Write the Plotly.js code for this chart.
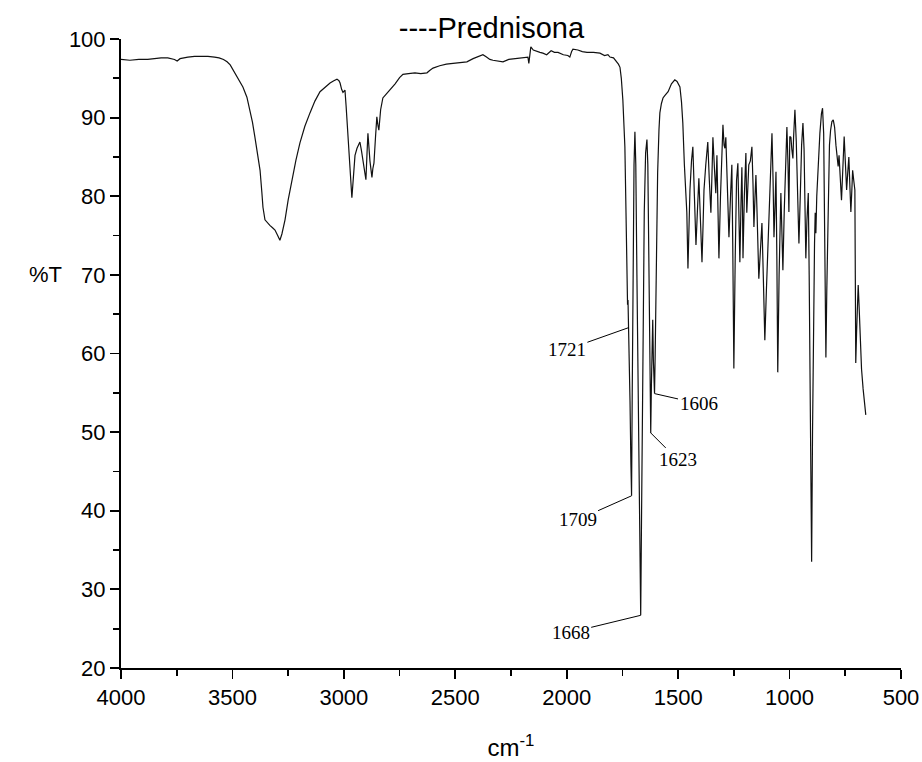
<!DOCTYPE html>
<html>
<head>
<meta charset="utf-8">
<script src="https://cdn.plot.ly/plotly-3.0.1.min.js"></script>
<style>html,body{margin:0;padding:0;background:#fff}#chart{width:922px;height:762px}</style>
</head>
<body>
<div id="chart"></div>
<script>
// Wavenumber (cm-1) and transmittance (%T)
const wavenumber = [
4000,3960,3920,3880,3850,3820,3790,3760,3748,3735,3700,3670,3640,3610,3580,3560,3540,3524,3510,3498,
3475,3453,3435,3421,3410,3399,3387,3376,3368,3363,3354,3343,3332,3320,3309,3297,3287,3278,3264,3250,
3233,3215,3197,3175,3152,3130,3107,3085,3062,3045,3031,3022,3017,3010,3004,2998,2995,2990,2982,2972,
2964,2957,2950,2941,2935,2928,2921,2914,2907,2901,2896,2892,2883,2874,2870,2865,2858,2852,2847,2843,
2835,2825,2810,2793,2770,2750,2735,2710,2681,2655,2627,2615,2600,2570,2540,2510,2480,2448,2420,2395,
2376,2360,2345,2331,2310,2286,2260,2230,2200,2174,2170,2165,2161,2150,2134,2120,2107,2090,2070,2055,
2039,2015,1995,1986,1978,1972,1950,1930,1909,1880,1851,1830,1815,1806,1790,1775,1768,1761,1755,1748,
1743,1739,1734,1730,1727,1725,1723,1721,1716,1712,1709,1706,1702,1698,1694,1690,1685,1678,1672,1668,
1664,1658,1652,1646,1640,1636,1631,1627,1623,1620,1617,1614,1611,1606,1603,1598,1592,1586,1582,1575,
1568,1560,1550,1545,1530,1515,1505,1492,1485,1479,1472,1466,1461,1456,1451,1447,1440,1434,1427,1420,
1413,1407,1400,1393,1388,1384,1376,1367,1360,1353,1348,1344,1337,1331,1326,1322,1317,1310,1304,1299,
1294,1290,1286,1279,1272,1265,1259,1255,1250,1244,1238,1232,1227,1223,1218,1214,1211,1209,1203,1196,
1192,1187,1183,1176,1169,1164,1160,1155,1151,1146,1142,1138,1132,1124,1118,1111,1104,1097,1090,1085,
1079,1074,1070,1065,1061,1057,1053,1047,1039,1034,1030,1024,1018,1012,1007,1003,999,994,990,985,
982,976,970,964,958,952,946,940,935,931,927,922,916,912,907,901,897,893,888,885,
882,878,871,864,857,852,847,843,840,837,833,827,821,816,810,804,798,792,786,782,
778,772,767,761,755,750,744,739,734,729,725,721,717,712,707,705,703,699,695,692,
688,683,677,670,664,658];
const transmittance = [
97.4,97.3,97.4,97.4,97.5,97.6,97.6,97.4,97.2,97.5,97.7,97.8,97.8,97.8,97.7,97.6,97.4,97.1,96.7,96.1,
95.1,93.9,92.6,91.0,89.4,87.5,85.5,83.3,80.5,78.6,77.0,76.6,76.3,76.0,75.7,75.0,74.4,75.2,77.0,79.5,
82.1,84.6,86.8,88.9,90.6,92.1,93.3,93.9,94.4,94.7,94.9,94.7,94.4,93.6,93.2,93.4,93.5,91.5,87.4,83.0,
79.8,82.5,85.2,86.1,86.4,86.9,85.8,84.4,83.0,82.1,85.5,88.0,84.5,82.4,83.5,84.2,87.5,90.1,89.0,88.4,
91.0,92.5,93.0,93.5,94.3,95.1,95.5,95.6,95.7,95.6,95.7,96.0,96.3,96.6,96.8,96.9,97.0,97.1,97.5,97.8,
98.0,97.7,97.4,97.3,97.2,97.1,97.4,97.5,97.6,97.7,96.9,98.2,99.0,98.6,98.4,98.3,98.2,98.0,98.5,98.3,
98.3,98.0,97.9,97.7,98.4,98.7,98.6,98.4,98.3,98.3,98.2,97.9,98.0,97.7,97.6,97.1,96.8,96.4,95.0,92.2,
89.0,86.3,78.0,69.3,66.2,66.8,64.5,63.3,54.0,46.0,41.9,55.0,72.0,84.0,88.2,84.0,70.0,52.0,36.0,26.7,
40.0,62.0,78.0,85.5,87.2,84.0,72.0,58.0,49.9,56.0,63.0,64.3,59.0,54.9,60.0,72.0,83.0,88.5,90.6,91.8,
92.5,92.8,93.1,93.3,94.3,94.8,94.6,93.9,92.0,89.3,84.0,80.0,77.9,70.8,76.0,80.8,84.5,86.3,80.0,73.8,
78.5,82.3,77.0,71.6,76.5,80.8,84.0,86.9,82.0,77.9,83.0,87.5,83.5,80.4,85.2,79.0,72.1,80.0,86.5,89.1,
86.5,86.1,87.5,81.0,74.8,80.0,84.0,74.0,58.1,72.0,82.0,84.2,78.0,71.6,79.0,83.7,78.0,72.1,80.0,85.5,
77.9,81.0,84.0,84.5,86.3,81.5,76.1,80.0,82.7,78.0,71.9,69.5,72.5,76.6,70.0,61.7,68.0,73.8,80.0,85.5,
88.0,82.0,74.8,79.0,83.1,72.0,57.6,70.0,80.4,75.0,70.6,78.0,85.0,88.8,84.0,78.0,87.6,87.5,86.0,84.8,
87.5,91.0,87.0,80.0,74.0,80.0,86.5,89.3,86.0,79.0,72.1,77.0,80.4,70.0,50.0,33.5,50.0,66.0,74.0,77.9,
75.3,80.0,85.0,88.0,90.5,91.2,88.0,78.0,68.0,59.5,68.0,80.0,86.5,88.4,89.5,89.7,88.8,86.5,84.5,83.8,
85.2,82.0,79.5,83.5,87.6,84.5,80.8,83.0,85.0,81.0,78.0,80.5,83.3,82.0,80.8,70.0,58.8,63.0,67.0,68.7,
66.0,62.0,58.0,55.5,53.8,52.2];

// Labelled bands
const peakLabels = ["1721","1709","1668","1623","1606"];
const peakWn = [1721,1709,1668,1623,1606];
const peakT = [63.3,41.9,26.7,49.9,54.9];

const xTickVals = [4000,3500,3000,2500,2000,1500,1000,500];
const yTickVals = [20,30,40,50,60,70,80,90,100];

const labelOffsets = [[-62,22],[-54,24],[-70,17],[27,27],[44,10]];

const annotations = peakLabels.map((t,i)=>({
  x: peakWn[i], y: peakT[i], xref:'x', yref:'y', text: t,
  showarrow: true, arrowhead: 0, arrowwidth: 1, arrowcolor: '#000',
  ax: labelOffsets[i][0], ay: labelOffsets[i][1],
  font: {family: 'Liberation Serif, Times New Roman, serif', size: 19, color: '#000'}
}));
annotations.push({
  xref:'paper', yref:'paper', x:-0.0974, y:0.625, text:'%T', showarrow:false,
  xanchor:'center', yanchor:'middle',
  font:{family:'Liberation Sans, Arial, sans-serif', size:22, color:'#000'}
});

const trace = {
  x: wavenumber, y: transmittance, type:'scatter', mode:'lines',
  line:{color:'#111', width:1.2}, hoverinfo:'x+y', showlegend:false
};

const font = {family:'Liberation Sans, Arial, sans-serif', size:22, color:'#000'};
const layout = {
  width:922, height:762,
  margin:{l:121, r:21, t:39, b:94, pad:0},
  paper_bgcolor:'#fff', plot_bgcolor:'#fff',
  font: font,
  title:{text:'----Prednisona', x:0.533, xref:'container', xanchor:'center',
         y:0.964, yref:'container', yanchor:'middle',
         font:{family:'Liberation Sans, Arial, sans-serif', size:29, color:'#000'}},
  xaxis:{range:[4000,500], tickmode:'array', tickvals:xTickVals, ticktext:xTickVals.map(String),
         ticks:'outside', ticklen:9, tickwidth:1.8, tickcolor:'#000',
         minor:{ticks:'outside', ticklen:6, tickwidth:1.8, tickcolor:'#000', dtick:250, tick0:0},
         showline:true, linewidth:2, linecolor:'#000', showgrid:false, zeroline:false,
         tickfont:font,
         title:{text:'cm<sup>-1</sup>', standoff:30, font:{family:'Liberation Sans, Arial, sans-serif', size:24, color:'#000'}}},
  yaxis:{range:[20,100], tickmode:'array', tickvals:yTickVals, ticktext:yTickVals.map(String),
         ticks:'outside', ticklen:9, tickwidth:1.8, tickcolor:'#000',
         minor:{ticks:'outside', ticklen:6, tickwidth:1.8, tickcolor:'#000', dtick:5, tick0:0},
         showline:true, linewidth:2, linecolor:'#000', showgrid:false, zeroline:false,
         tickfont:font},
  annotations: annotations
};

Plotly.newPlot('chart', [trace], layout, {displayModeBar:false, staticPlot:true});
</script>
</body>
</html>
